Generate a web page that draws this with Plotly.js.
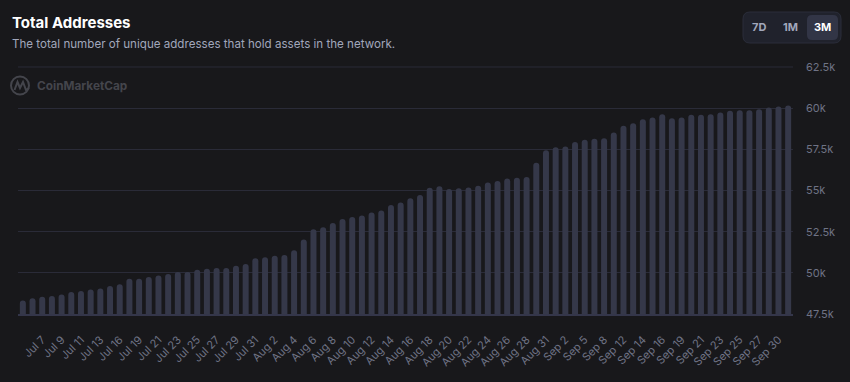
<!DOCTYPE html>
<html>
<head>
<meta charset="utf-8">
<script src="https://cdn.plot.ly/plotly-3.0.1.min.js"></script>
<style>
html,body{margin:0;padding:0;background:#18181b;}
#chart{width:850px;height:382px;}
</style>
</head>
<body>
<div id="chart"></div>
<script>
// ---- data ----
const dates = [
  "Jul 5","Jul 6","Jul 7","Jul 8","Jul 9","Jul 10","Jul 11","Jul 12","Jul 13","Jul 14",
  "Jul 16","Jul 17","Jul 19","Jul 20","Jul 21","Jul 22","Jul 23","Jul 24","Jul 25","Jul 26",
  "Jul 27","Jul 28","Jul 29","Jul 30","Jul 31","Aug 1","Aug 2","Aug 3","Aug 4","Aug 5",
  "Aug 6","Aug 7","Aug 8","Aug 9","Aug 10","Aug 11","Aug 12","Aug 13","Aug 14","Aug 15",
  "Aug 16","Aug 17","Aug 18","Aug 19","Aug 20","Aug 21","Aug 22","Aug 23","Aug 24","Aug 25",
  "Aug 26","Aug 27","Aug 28","Aug 29","Aug 31","Sep 1","Sep 2","Sep 3","Sep 5","Sep 6",
  "Sep 8","Sep 10","Sep 12","Sep 13","Sep 14","Sep 15","Sep 16","Sep 17","Sep 19","Sep 20",
  "Sep 21","Sep 22","Sep 23","Sep 24","Sep 25","Sep 26","Sep 27","Sep 28","Sep 30","Oct 1"
];
const totalAddresses = [
  48320,48450,48550,48590,48690,48835,48895,48995,49055,49200,
  49300,49640,49640,49745,49845,49930,50050,50050,50190,50250,
  50300,50300,50430,50530,50890,50950,51040,51080,51370,52020,
  52640,52770,53020,53270,53385,53485,53665,53790,54120,54270,
  54530,54720,55170,55265,55085,55130,55180,55285,55480,55580,
  55730,55780,55820,56680,57440,57620,57670,57940,58080,58140,
  58170,58520,58925,59090,59330,59430,59635,59390,59430,59595,
  59595,59635,59735,59835,59880,59880,59940,60035,60095,60160
];
const xTickLabels = [
  "Jul 7","Jul 9","Jul 11","Jul 13","Jul 16","Jul 19","Jul 21","Jul 23","Jul 25","Jul 27",
  "Jul 29","Jul 31","Aug 2","Aug 4","Aug 6","Aug 8","Aug 10","Aug 12","Aug 14","Aug 16",
  "Aug 18","Aug 20","Aug 22","Aug 24","Aug 26","Aug 28","Aug 31","Sep 2","Sep 5","Sep 8",
  "Sep 12","Sep 14","Sep 16","Sep 19","Sep 21","Sep 23","Sep 25","Sep 27","Sep 30"
];
const yTickValues = [47500, 50000, 52500, 55000, 57500, 60000, 62500];
const yTickLabels = ["47.5k","50k","52.5k","55k","57.5k","60k","62.5k"];
const rangeButtons = ["7D","1M","3M"];

// ---- layout helpers (pixel -> paper) ----
const L = 18, R = 793, T = 66, B = 314;
const W = R - L, H = B - T;
const px = v => (v - L) / W;
const py = v => (B - v) / H;
function roundRect(x0, y0, x1, y1, r) {
  const p = (x, y) => px(x) + "," + py(y);
  return "M" + p(x0 + r, y0) + " L" + p(x1 - r, y0) + " Q" + p(x1, y0) + " " + p(x1, y0 + r) +
    " L" + p(x1, y1 - r) + " Q" + p(x1, y1) + " " + p(x1 - r, y1) +
    " L" + p(x0 + r, y1) + " Q" + p(x0, y1) + " " + p(x0, y1 - r) +
    " L" + p(x0, y0 + r) + " Q" + p(x0, y0) + " " + p(x0 + r, y0) + " Z";
}

const trace = {
  type: "bar",
  x: dates,
  y: totalAddresses,
  marker: { color: "#353849", cornerradius: 3 },
  hoverinfo: "skip"
};

const FONT = "Inter, 'Noto Sans', sans-serif";
const GRID = "#2a2b38";
const annotations = [
  { text: "<b>Total Addresses</b>", x: px(10), y: py(22.5), xref: "paper", yref: "paper",
    xanchor: "left", yanchor: "middle", showarrow: false,
    font: { family: FONT, size: 15, color: "#ffffff" } },
  { text: "The total number of unique addresses that hold assets in the network.", x: px(10), y: py(44),
    xref: "paper", yref: "paper", xanchor: "left", yanchor: "middle", showarrow: false,
    font: { family: FONT, size: 11.6, color: "#a1a7bb" } },
  { text: "<b>CoinMarketCap</b>", x: px(35), y: py(86), xref: "paper", yref: "paper",
    xanchor: "left", yanchor: "middle", showarrow: false,
    font: { family: FONT, size: 11.8, color: "#44454c" } }
];
const btnX = [759, 790.5, 822];
rangeButtons.forEach((b, i) => {
  annotations.push({ text: "<b>" + b + "</b>", x: px(btnX[i]), y: py(27.5), xref: "paper", yref: "paper",
    xanchor: "center", yanchor: "middle", showarrow: false,
    font: { family: FONT, size: 11, color: i === 2 ? "#ffffff" : "#a1a7bb" } });
});

const shapes = [
  // top gridline (at the range edge)
  { type: "line", xref: "paper", yref: "y", x0: 0, x1: 1, y0: yTickValues[yTickValues.length - 1],
    y1: yTickValues[yTickValues.length - 1], line: { color: GRID, width: 1 }, layer: "below" },
  { type: "path", xref: "paper", yref: "paper", path: roundRect(743, 12, 841, 43, 7),
    fillcolor: "#20222c", line: { color: "#2a2d3a", width: 1 } },
  { type: "path", xref: "paper", yref: "paper", path: roundRect(807, 15, 838, 40, 5),
    fillcolor: "#323546", line: { width: 0 } },
  // watermark logo
  { type: "circle", xref: "paper", yref: "paper", x0: px(11), x1: px(29), y0: py(94.5), y1: py(76.5),
    line: { color: "#44454c", width: 2 }, fillcolor: "rgba(0,0,0,0)" },
  { type: "path", xref: "paper", yref: "paper",
    path: "M" + px(14.5) + "," + py(90) + " L" + px(17.5) + "," + py(82) + " L" + px(20) + "," + py(88) +
          " L" + px(23) + "," + py(82) + " L" + px(26) + "," + py(90) + " L" + px(29) + "," + py(88),
    line: { color: "#44454c", width: 2 } }
];

const layout = {
  width: 850, height: 382,
  paper_bgcolor: "#18181b",
  plot_bgcolor: "#18181b",
  margin: { l: L, r: 850 - R, t: T, b: 382 - B },
  bargap: 0.38,
  showlegend: false,
  font: { family: FONT, color: "#7d8193" },
  xaxis: {
    type: "category",
    range: [-0.5, dates.length - 0.5],
    tickmode: "array",
    tickvals: xTickLabels,
    ticktext: xTickLabels,
    tickangle: -45,
    tickfont: { family: FONT, size: 11, color: "#6f7385" },
    ticklabelstandoff: 13,
    showgrid: false,
    zeroline: false,
    showline: true,
    linecolor: "#34364a",
    linewidth: 2,
    ticks: "",
    fixedrange: true
  },
  yaxis: {
    side: "right",
    range: [47500, 62560],
    tickmode: "array",
    tickvals: yTickValues,
    ticktext: yTickLabels,
    tickfont: { family: FONT, size: 11, color: "#6f7385" },
    gridcolor: GRID,
    gridwidth: 1,
    zeroline: false,
    showline: false,
    ticks: "",
    ticklabelstandoff: 12,
    fixedrange: true
  },
  annotations: annotations,
  shapes: shapes
};

Plotly.newPlot("chart", [trace], layout, { displayModeBar: false, staticPlot: true });
</script>
</body>
</html>
